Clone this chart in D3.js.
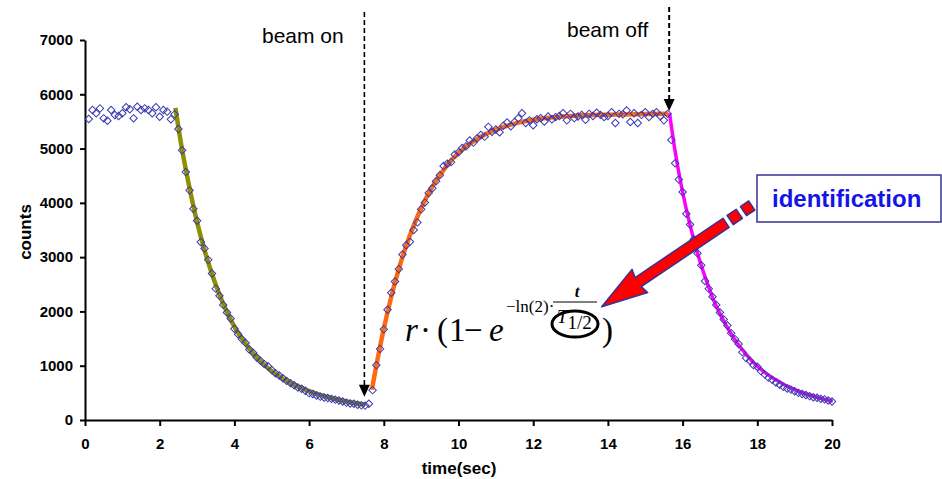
<!DOCTYPE html>
<html>
<head>
<meta charset="utf-8">
<script src="https://cdn.jsdelivr.net/npm/d3@7"></script>
<style>
  html, body { margin: 0; padding: 0; background: #fff; }
  svg { display: block; }
</style>
</head>
<body>
<div id="chart"></div>
<script>
// Measured counts, one sample every 0.1 s starting at 0.1 s
var sampleStart = 0.1;
var sampleStep = 0.1;
var counts = [
  // 0.1 - 2.4 s : plateau before the first decay
  5545, 5710, 5650, 5740, 5557, 5513, 5710, 5618, 5600, 5650, 5760, 5723,
  5557, 5770, 5710, 5740, 5710, 5650, 5760, 5587, 5710, 5680, 5540, 5630,
  // 2.5 - 7.6 s : decay
  5360, 4970, 4570, 4230, 3890, 3670, 3280,
  3160, 2950, 2700, 2420, 2290, 2120, 1980, 1870, 1680, 1580, 1490, 1420,
  1300, 1240, 1150, 1090, 1030, 990, 920, 860, 820, 770, 720, 680, 640,
  600, 575, 540, 495, 480, 450, 430, 415, 405, 390, 375, 360, 340, 320,
  305, 300, 280, 270, 265, 300,
  // 7.7 - 15.6 s : beam on, growth
  550, 1010, 1310, 1670, 2030, 2345, 2550, 2780, 3050, 3220, 3285, 3500,
  3640, 3880, 4005, 4180, 4270, 4400, 4510,
  4680, 4720, 4750, 4890, 4930, 5010, 5040, 5150, 5110, 5190,
  5250, 5220, 5400, 5310, 5350, 5300, 5420, 5480, 5410, 5490,
  5560, 5650, 5470, 5520, 5430, 5540, 5560, 5500, 5590, 5540,
  5580, 5600, 5650, 5520, 5640, 5560, 5590, 5620, 5530, 5640,
  5600, 5660, 5620, 5580, 5600, 5670, 5470, 5640, 5630, 5700,
  5490, 5650, 5470, 5620, 5670, 5580, 5640, 5670, 5600, 5520, 5640,
  // 15.7 - 20.0 s : beam off, decay
  5160, 4730, 4430, 4200, 3800, 3600, 3330, 3070, 2850, 2560,
  2420, 2270, 2120, 1980, 1850, 1740, 1600, 1490, 1400, 1250,
  1140, 1090, 1010, 980, 900, 840, 780, 740, 690, 650,
  610, 580, 560, 530, 500, 480, 460, 440, 420, 410,
  390, 380, 360, 340
];

// Fitted curves [time, counts]
var fitDecay = [[2.42, 5750], [2.6, 4980], [2.8, 4270], [3.0, 3650], [3.2, 3130], [3.4, 2690],
  [3.6, 2310], [3.8, 1990], [4.0, 1720], [4.25, 1450], [4.5, 1230], [4.75, 1050], [5.0, 900],
  [5.25, 780], [5.5, 680], [5.75, 600], [6.0, 530], [6.5, 420], [7.0, 340], [7.5, 280]];
var fitGrowth = [[7.68, 560], [7.8, 1000], [8.0, 1680], [8.2, 2270], [8.4, 2780], [8.6, 3210],
  [8.8, 3580], [9.0, 3900], [9.25, 4240], [9.5, 4510], [9.75, 4740], [10.0, 4920], [10.5, 5180],
  [11.0, 5350], [11.5, 5460], [12.0, 5530], [13.0, 5600], [14.0, 5625], [15.0, 5635], [15.62, 5640]];
var fitBeamOff = [[15.65, 5650], [15.8, 4950], [16.0, 4200], [16.2, 3590], [16.4, 3070], [16.6, 2640],
  [16.8, 2260], [17.0, 1960], [17.25, 1640], [17.5, 1380], [17.75, 1170], [18.0, 990], [18.25, 850],
  [18.5, 740], [18.75, 640], [19.0, 560], [19.25, 490], [19.5, 440], [19.75, 390], [20.02, 345]];

var xTicks = [0, 2, 4, 6, 8, 10, 12, 14, 16, 18, 20];
var yTicks = [0, 1000, 2000, 3000, 4000, 5000, 6000, 7000];

// beam markers: [time, arrow tip counts, line top counts]
var beamOn = [7.48, 430, 7515];
var beamOff = [15.64, 5690, 7610];

var width = 942, height = 479;
var sans = "'Liberation Sans', Arial, sans-serif";
var serif = "'Liberation Serif', 'Times New Roman', serif";

var svg = d3.select("#chart").append("svg")
    .attr("width", width)
    .attr("height", height);

var x = d3.scaleLinear().domain([0, 20]).range([85, 832]);
var y = d3.scaleLinear().domain([0, 7000]).range([420, 40]);

// Axes
var xAxis = svg.append("g")
    .attr("transform", "translate(0," + y(0) + ")")
    .call(d3.axisBottom(x).tickValues(xTicks).tickFormat(d3.format("d"))
        .tickSize(6).tickSizeOuter(0).tickPadding(12));
var yAxis = svg.append("g")
    .attr("transform", "translate(" + x(0) + ",0)")
    .call(d3.axisLeft(y).tickValues(yTicks).tickFormat(d3.format("d"))
        .tickSize(5).tickSizeOuter(0).tickPadding(7));

[xAxis, yAxis].forEach(function (ax) {
    ax.select(".domain").attr("stroke", "#000").attr("stroke-width", 2);
    ax.selectAll(".tick line").attr("stroke", "#000").attr("stroke-width", 2);
    ax.selectAll(".tick text")
        .attr("fill", "#000")
        .style("font-family", sans)
        .style("font-size", "15px")
        .style("font-weight", "bold");
});

// Axis titles
svg.append("text")
    .attr("x", 459).attr("y", 474)
    .attr("text-anchor", "middle")
    .style("font-family", sans).style("font-size", "17px").style("font-weight", "bold")
    .text("time(sec)");

svg.append("text")
    .attr("transform", "translate(31,232) rotate(-90)")
    .attr("text-anchor", "middle")
    .style("font-family", sans).style("font-size", "17px").style("font-weight", "bold")
    .text("counts");

// Fit lines
var fitLine = d3.line()
    .x(function (d) { return x(d[0]); })
    .y(function (d) { return y(d[1]); })
    .curve(d3.curveMonotoneX);

svg.append("path").datum(fitDecay)
    .attr("fill", "none").attr("stroke", "#8f8f00").attr("stroke-width", 4.5)
    .attr("d", fitLine);
svg.append("path").datum(fitGrowth)
    .attr("fill", "none").attr("stroke", "#ff6a10").attr("stroke-width", 4.5)
    .attr("d", fitLine);
svg.append("path").datum(fitBeamOff)
    .attr("fill", "none").attr("stroke", "#ff00ff").attr("stroke-width", 3.5)
    .attr("d", fitLine);

// Data points (open diamonds)
var diamond = d3.symbol().type(d3.symbolSquare).size(28);
svg.append("g").selectAll("path")
    .data(counts)
    .enter().append("path")
    .attr("d", diamond)
    .attr("transform", function (d, i) {
        return "translate(" + x(sampleStart + i * sampleStep) + "," + y(d) + ") rotate(45)";
    })
    .attr("fill", "none")
    .attr("stroke", "#3b3bb0")
    .attr("stroke-width", 1);

// Beam on / beam off dashed arrows
function beamArrow(b, label, lx, ly, w) {
    var bx = x(b[0]), tip = y(b[1]), top = y(b[2]);
    svg.append("line")
        .attr("x1", bx).attr("x2", bx)
        .attr("y1", top).attr("y2", tip - 11)
        .attr("stroke", "#000").attr("stroke-width", w)
        .attr("stroke-dasharray", "5,3");
    svg.append("path")
        .attr("d", "M" + (bx - 5.5) + "," + (tip - 12) + "L" + (bx + 5.5) + "," + (tip - 12) + "L" + bx + "," + tip + "Z")
        .attr("fill", "#000");
    svg.append("text")
        .attr("x", lx).attr("y", ly)
        .style("font-family", sans).style("font-size", "21px")
        .text(label);
}
beamArrow(beamOn, "beam on", 262, 43, 1.6);
beamArrow(beamOff, "beam off", 567, 37, 2);

// Formula r·(1−e^(−ln(2)·t/T1/2))
var formula = svg.append("g").style("font-family", serif).attr("fill", "#000");
[["r", 405, "italic"], ["\u00b7", 420, "normal"], ["(", 437, "normal"], ["1", 449, "normal"],
 ["\u2212", 464, "normal"], ["e", 489, "italic"]].forEach(function (p) {
    formula.append("text")
        .attr("x", p[1]).attr("y", 341)
        .style("font-size", "33px").style("font-style", p[2])
        .text(p[0]);
});
formula.append("text")
    .attr("x", 506).attr("y", 312)
    .style("font-size", "17px")
    .text("\u2212ln(2)\u00b7");
formula.append("text")
    .attr("x", 577).attr("y", 297)
    .attr("text-anchor", "middle")
    .style("font-size", "17px").style("font-style", "italic").style("font-weight", "bold")
    .text("t");
formula.append("line")
    .attr("x1", 553).attr("x2", 597).attr("y1", 302).attr("y2", 302)
    .attr("stroke", "#000").attr("stroke-width", 1);
formula.append("ellipse")
    .attr("cx", 575).attr("cy", 324).attr("rx", 23).attr("ry", 13)
    .attr("fill", "none").attr("stroke", "#000").attr("stroke-width", 3);
var tHalf = formula.append("text")
    .attr("x", 557).attr("y", 323);
tHalf.append("tspan").style("font-size", "19px").style("font-style", "italic").text("T");
tHalf.append("tspan").attr("dy", 6).style("font-size", "19px").text("1/2");
formula.append("text")
    .attr("x", 602).attr("y", 341)
    .style("font-size", "33px")
    .text(")");

// Red block arrow pointing at T1/2
var arrow = svg.append("g")
    .attr("transform", "translate(601.7,306.7) rotate(-34)")
    .attr("fill", "#ff0000")
    .attr("stroke", "#333399")
    .attr("stroke-width", 1.5)
    .attr("stroke-linejoin", "round");
arrow.append("path")
    .attr("d", "M0,0 L46,-14 L44,-5.5 L150,-5.5 L150,5.5 L44,5.5 L46,14 Z");
arrow.append("rect").attr("x", 155).attr("y", -5.5).attr("width", 11).attr("height", 11);
arrow.append("rect").attr("x", 171).attr("y", -5.5).attr("width", 10).attr("height", 11);

// Identification label box
svg.append("rect")
    .attr("x", 757).attr("y", 175).attr("width", 184).attr("height", 47)
    .attr("fill", "#fff").attr("stroke", "#333399").attr("stroke-width", 1.5);
svg.append("text")
    .attr("x", 772).attr("y", 207)
    .attr("fill", "#1414e6")
    .style("font-family", sans).style("font-size", "24px").style("font-weight", "bold")
    .text("identification");
</script>
</body>
</html>
